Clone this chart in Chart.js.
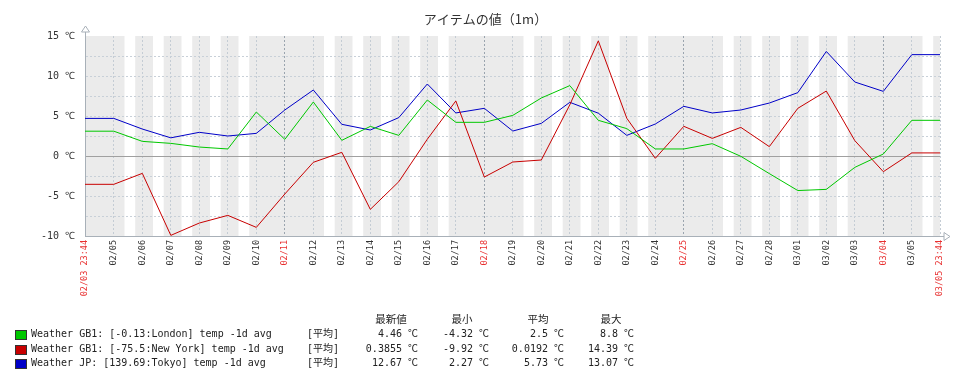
<!DOCTYPE html>
<html>
<head>
<meta charset="utf-8">
<script src="https://cdn.jsdelivr.net/npm/chart.js@4.4.1/dist/chart.umd.min.js"></script>
<style>
    body { margin: 0; background: #fff; }
    #contenedor { position: relative; width: 971px; height: 382px; }
    #leyenda { position: absolute; left: 0; top: 0; width: 971px; height: 382px; pointer-events: none;
        font: 10px "DejaVu Sans Mono", "Noto Sans CJK JP", monospace; color: #222; }
    #leyenda span { position: absolute; white-space: pre; line-height: 12px; }
    #leyenda .caja { width: 10px; height: 8px; border: 1px solid #333; }
    #leyenda .der { text-align: right; }
    #leyenda .cab { font-family: "Noto Sans CJK JP", sans-serif; font-size: 10.5px; text-align: center; width: 60px; }
</style>
</head>
<body>
<div id="contenedor">
    <canvas id="chartTemperaturas" width="971" height="382"></canvas>
    <div id="leyenda"></div>
</div>
<script>
const fechas = ['02/03 23:44', '02/05', '02/06', '02/07', '02/08', '02/09', '02/10', '02/11', '02/12', '02/13',
    '02/14', '02/15', '02/16', '02/17', '02/18', '02/19', '02/20', '02/21', '02/22', '02/23', '02/24', '02/25',
    '02/26', '02/27', '02/28', '03/01', '03/02', '03/03', '03/04', '03/05', '03/05 23:44'];
const domingos = ['02/03 23:44', '02/11', '02/18', '02/25', '03/04', '03/05 23:44'];

const londres = [3.1, 3.1, 1.83, 1.58, 1.12, 0.88, 5.5, 2.08, 6.75, 1.96, 3.7, 2.58, 7.0, 4.21, 4.21, 5.08, 7.25,
    8.8, 4.46, 3.42, 0.88, 0.88, 1.54, -0.04, -2.2, -4.32, -4.17, -1.42, 0.25, 4.46, 4.46];
const nuevaYork = [-3.54, -3.54, -2.17, -9.92, -8.38, -7.42, -8.92, -4.75, -0.79, 0.46, -6.67, -3.21, 2.1, 6.88,
    -2.63, -0.75, -0.5, 6.4, 14.39, 4.71, -0.29, 3.71, 2.2, 3.58, 1.17, 5.96, 8.12, 1.92, -1.96, 0.3855, 0.3855];
const tokio = [4.7, 4.7, 3.37, 2.27, 2.96, 2.5, 2.83, 5.75, 8.25, 3.96, 3.25, 4.8, 9.0, 5.38, 5.96, 3.12, 4.08,
    6.71, 5.35, 2.58, 4.0, 6.21, 5.38, 5.75, 6.62, 7.92, 13.07, 9.25, 8.08, 12.67, 12.67];

const series = [
    { nombre: 'Weather GB1: [-0.13:London] temp -1d avg', datos: londres, color: '#00c800', stats: ['4.46 ℃', '-4.32 ℃', '2.5 ℃', '8.8 ℃'] },
    { nombre: 'Weather GB1: [-75.5:New York] temp -1d avg', datos: nuevaYork, color: '#c80000', stats: ['0.3855 ℃', '-9.92 ℃', '0.0192 ℃', '14.39 ℃'] },
    { nombre: 'Weather JP: [139.69:Tokyo] temp -1d avg', datos: tokio, color: '#0000c8', stats: ['12.67 ℃', '2.27 ℃', '5.73 ℃', '13.07 ℃'] }
];
const cabeceras = ['最新値', '最小', '平均', '最大'];

// dias desde 02/04 00:00 (domingo)
const aDias = (f) => {
    const [fecha, hora] = f.split(' ');
    const [mes, dia] = fecha.split('/').map(Number);
    let d = mes === 2 ? dia - 4 : 24 + dia;
    if (hora) {
        const [h, m] = hora.split(':').map(Number);
        d += (h * 60 + m) / 1440;
    }
    return d;
};

const xMin = aDias(fechas[0]);
const xMax = aDias(fechas[fechas.length - 1]);

const horarioLaboral = {
    id: 'horarioLaboral',
    beforeDraw(chart) {
        const { ctx, chartArea: a, scales: { x } } = chart;
        ctx.save();
        ctx.fillStyle = '#ebebeb';
        ctx.fillRect(a.left, a.top, a.right - a.left, a.bottom - a.top);
        ctx.fillStyle = '#ffffff';
        for (let d = -1; d <= 30; d++) {
            const dow = ((d % 7) + 7) % 7;
            if (dow < 1 || dow > 5) continue;
            const x1 = Math.max(x.getPixelForValue(d + 9 / 24), a.left);
            const x2 = Math.min(x.getPixelForValue(d + 18 / 24), a.right);
            if (x2 > x1) ctx.fillRect(x1, a.top, x2 - x1, a.bottom - a.top);
        }
        ctx.restore();
    }
};

const flechas = {
    id: 'flechas',
    afterDraw(chart) {
        const { ctx, chartArea: a } = chart;
        ctx.save();
        ctx.strokeStyle = '#a8b0b8';
        ctx.lineWidth = 1;
        ctx.beginPath();
        ctx.moveTo(a.left + 0.5, a.top);
        ctx.lineTo(a.left + 0.5, a.top - 4);
        ctx.moveTo(a.right, a.bottom + 0.5);
        ctx.lineTo(a.right + 4, a.bottom + 0.5);
        ctx.stroke();
        ctx.fillStyle = '#fff';
        ctx.beginPath();
        ctx.moveTo(a.left + 0.5, a.top - 10);
        ctx.lineTo(a.left - 3.5, a.top - 4);
        ctx.lineTo(a.left + 4.5, a.top - 4);
        ctx.closePath();
        ctx.fill();
        ctx.stroke();
        ctx.beginPath();
        ctx.moveTo(a.right + 10, a.bottom + 0.5);
        ctx.lineTo(a.right + 4, a.bottom - 3.5);
        ctx.lineTo(a.right + 4, a.bottom + 4.5);
        ctx.closePath();
        ctx.fill();
        ctx.stroke();
        ctx.restore();
    }
};

const canvas = document.getElementById('chartTemperaturas');
const context = canvas.getContext('2d');

const chartTemperaturas = new Chart(context, {
    type: 'line',
    data: {
        datasets: series.map(s => ({
            label: s.nombre,
            data: fechas.map((f, i) => ({ x: aDias(f), y: s.datos[i] })),
            borderColor: s.color,
            borderWidth: 1,
            pointRadius: 0,
            tension: 0,
            fill: false
        }))
    },
    options: {
        responsive: false,
        animation: false,
        layout: { padding: { left: 0, right: 0, top: 0, bottom: 76 } },
        plugins: {
            legend: { display: false },
            tooltip: { enabled: false },
            title: {
                display: true,
                text: 'アイテムの値（1m）',
                color: '#333',
                font: { family: '"Noto Sans CJK JP"', size: 13, weight: 'normal' },
                padding: { top: 11, bottom: 9.4 }
            }
        },
        scales: {
            x: {
                type: 'linear',
                min: xMin,
                max: xMax,
                afterBuildTicks: (s) => { s.ticks = fechas.map(f => ({ value: aDias(f) })); },
                afterFit: (s) => { s.height = 70; },
                ticks: {
                    autoSkip: false,
                    minRotation: 90,
                    maxRotation: 90,
                    padding: 4,
                    font: { family: '"DejaVu Sans Mono"', size: 8.5 },
                    color: (c) => domingos.includes(fechas[c.index]) ? '#e83030' : '#333',
                    callback: (v, i) => fechas[i]
                },
                grid: {
                    drawTicks: false,
                    color: (c) => {
                        const f = fechas[c.index];
                        if (c.index === 0) return 'rgba(0,0,0,0)';
                        return domingos.includes(f) && c.index !== fechas.length - 1 ? '#9aa4ae' : '#c4ccd4';
                    }
                },
                border: { color: '#a8b0b8', dash: [2, 2] }
            },
            y: {
                min: -10,
                max: 15,
                afterFit: (s) => { s.width = 85; },
                ticks: {
                    stepSize: 2.5,
                    autoSkip: false,
                    padding: 10,
                    font: { family: '"DejaVu Sans Mono"', size: 10 },
                    color: '#333',
                    callback: (v) => v % 5 === 0 ? `${v} ℃` : ''
                },
                grid: {
                    drawTicks: false,
                    color: (c) => {
                        if (!c.tick) return '#c8d0d8';
                        if (c.tick.value === 15 || c.tick.value === -10) return 'rgba(0,0,0,0)';
                        return c.tick.value === 0 ? '#a0a0a0' : '#c8d0d8';
                    }
                },
                border: { color: '#a8b0b8', dash: (c) => (c.tick && c.tick.value === 0) ? [] : [2, 2] }
            },
            margenDer: {
                type: 'linear',
                position: 'right',
                min: -10,
                max: 15,
                afterFit: (s) => { s.width = 31; },
                ticks: { display: false },
                grid: { display: false, drawTicks: false },
                border: { display: false }
            }
        }
    },
    plugins: [horarioLaboral, flechas]
});

// leyenda con estadisticas
const leyenda = document.getElementById('leyenda');
const agregar = (texto, estilo, clase) => {
    const el = document.createElement('span');
    el.textContent = texto;
    if (clase) el.className = clase;
    Object.assign(el.style, estilo);
    leyenda.appendChild(el);
    return el;
};

const centrosCab = [391, 462, 538, 611];
const bordesDer = [418, 489, 564, 634];
cabeceras.forEach((c, i) => agregar(c, { left: (centrosCab[i] - 30) + 'px', top: '313px' }, 'cab'));

series.forEach((s, fila) => {
    const top = 328 + fila * 14.5;
    agregar('', { left: '15px', top: (top + 2) + 'px', background: s.color }, 'caja');
    agregar(s.nombre, { left: '31px', top: top + 'px' });
    agregar('[平均]', { left: '307px', top: top + 'px' });
    s.stats.forEach((v, i) => {
        agregar(v, { right: (971 - bordesDer[i]) + 'px', top: top + 'px' }, 'der');
    });
});
</script>
</body>
</html>
